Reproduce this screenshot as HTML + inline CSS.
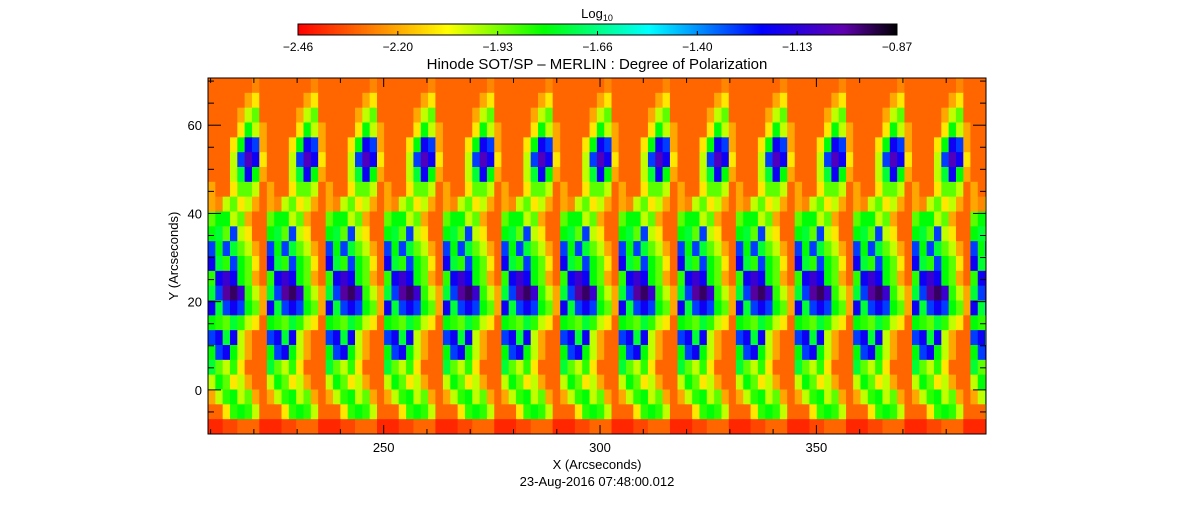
<!DOCTYPE html>
<html><head><meta charset="utf-8"><style>
body{margin:0;background:#fff;}
svg text{font-family:"Liberation Sans",sans-serif;fill:#000;}
</style></head><body>
<svg id="c" width="1194" height="512" viewBox="0 0 1194 512">
<defs>
<linearGradient id="cmap" x1="0" x2="1" y1="0" y2="0">
<stop offset="0" stop-color="#ff0000"/><stop offset="0.12" stop-color="#ff7a00"/><stop offset="0.25" stop-color="#ffff00"/>
<stop offset="0.41" stop-color="#00ff00"/><stop offset="0.586" stop-color="#00ffff"/><stop offset="0.774" stop-color="#0000ff"/>
<stop offset="0.91" stop-color="#6000b0"/><stop offset="1" stop-color="#000000"/>
</linearGradient>
<clipPath id="plotclip"><rect x="208" y="78" width="778" height="356"/></clipPath>
</defs>
<text x="597" y="18" text-anchor="middle" font-size="13">Log<tspan font-size="9" dy="3">10</tspan></text>
<rect x="298" y="24" width="599" height="11" fill="url(#cmap)" stroke="#000"/>
<g id="cbticks"></g>
<text x="597" y="69" text-anchor="middle" font-size="15">Hinode SOT/SP – MERLIN : Degree of Polarization</text>
<g id="heat" clip-path="url(#plotclip)"></g>
<rect x="208" y="78" width="778" height="356" fill="none" stroke="#000"/>
<g id="axes"></g>
<text x="597" y="469" text-anchor="middle" font-size="13">X (Arcseconds)</text>
<text x="597" y="486" text-anchor="middle" font-size="13">23-Aug-2016 07:48:00.012</text>
<text transform="translate(178,256) rotate(-90)" text-anchor="middle" font-size="13">Y (Arcseconds)</text>
</svg>
<script>
const cbLabels=["-2.46","-2.20","-1.93","-1.66","-1.40","-1.13","-0.87"];
const vmin=-2.46, vmax=-0.87;
const xTicks=[250,300,350];
const yTicks=[0,20,40,60];
// one scan strip pattern: rows top->bottom, cols left->right (log10 degree of polarization)
const strip=[
[-2.3,-2.3,-2.3,-2.3,-2.3,-2.3,-2.25,-2.3],
[-2.3,-2.3,-2.3,-2.3,-2.3,-2.2,-2.1,-2.3],
[-2.3,-2.3,-2.3,-2.3,-2.2,-2.0,-1.9,-2.3],
[-2.3,-2.3,-2.3,-2.3,-2.1,-1.8,-2.0,-2.2],
[-2.3,-2.3,-2.3,-2.1,-1.8,-1.2,-1.3,-2.2],
[-2.3,-2.3,-2.3,-2.0,-1.3,-1.05,-1.2,-2.1],
[-2.3,-2.3,-2.3,-2.0,-1.75,-1.2,-1.8,-2.2],
[-2.2,-2.3,-2.3,-2.1,-1.9,-1.9,-2.0,-2.3],
[-2.2,-2.25,-2.0,-1.9,-2.1,-2.0,-2.2,-2.3],
[-1.9,-1.8,-1.8,-2.0,-1.9,-2.2,-2.3,-2.3],
[-1.8,-1.75,-1.9,-1.3,-2.0,-2.1,-2.3,-2.3],
[-1.3,-1.8,-1.3,-1.75,-1.9,-2.0,-2.2,-2.3],
[-1.2,-1.75,-1.85,-1.3,-1.8,-1.9,-2.1,-2.3],
[-1.85,-1.2,-1.1,-1.2,-1.8,-1.9,-2.2,-2.3],
[-1.75,-1.3,-1.0,-0.95,-1.1,-1.85,-2.0,-2.2],
[-1.2,-1.75,-1.3,-1.2,-1.3,-1.8,-1.9,-2.2],
[-1.8,-1.85,-1.9,-1.75,-1.85,-2.0,-2.1,-2.3],
[-1.3,-1.2,-1.75,-1.2,-2.0,-2.2,-2.3,-2.3],
[-1.8,-1.3,-1.2,-1.8,-2.0,-2.2,-2.3,-2.3],
[-1.75,-1.9,-2.0,-1.85,-2.1,-2.3,-2.3,-2.3],
[-2.0,-1.8,-1.9,-2.1,-2.0,-2.2,-2.3,-2.3],
[-2.2,-2.0,-1.85,-1.8,-2.0,-1.9,-2.2,-2.3],
[-2.3,-2.3,-2.1,-1.85,-1.8,-1.85,-2.0,-2.3],
[-2.4,-2.4,-2.35,-2.35,-2.3,-2.3,-2.3,-2.4]
];
const stripStarts=[209.4,223,236.6,250.1,263.7,277.2,290.8,304.3,317.9,331.4,345,358.5,372.1,385.6];
const stripWidth=13.55;
const NS="http://www.w3.org/2000/svg";
const X0=208,X1=986,Y0=434,Y1=78;
const xmin=209.4,xmax=389.2,ymin=-10,ymax=70.7;
const sx=v=>X0+(v-xmin)/(xmax-xmin)*(X1-X0);
const sy=v=>Y0-(v-ymin)/(ymax-ymin)*(Y0-Y1);
const stops=[[0,[255,0,0]],[0.12,[255,122,0]],[0.25,[255,255,0]],[0.41,[0,255,0]],[0.586,[0,255,255]],[0.774,[0,0,255]],[0.91,[96,0,176]],[1,[0,0,0]]];
function cmap(v){let t=Math.max(0,Math.min(1,(v-vmin)/(vmax-vmin)));
for(let i=1;i<stops.length;i++){if(t<=stops[i][0]){const a=stops[i-1],b=stops[i];const f=(t-a[0])/(b[0]-a[0]);
const c=a[1].map((x,k)=>Math.round(x+(b[1][k]-x)*f));return `rgb(${c})`;}}return "#000";}
function el(tag,attrs,parent){const e=document.createElementNS(NS,tag);for(const k in attrs)e.setAttribute(k,attrs[k]);parent.appendChild(e);return e;}
const heat=document.getElementById('heat');
const rows=strip.length, cols=strip[0].length;
stripStarts.forEach((s,si)=>{
  for(let r=0;r<rows;r++)for(let c=0;c<cols;c++){
    const xa=sx(s+stripWidth*c/cols), xb=sx(s+stripWidth*(c+1)/cols);
    const ya=sy(ymax-(ymax-ymin)*r/rows), yb=sy(ymax-(ymax-ymin)*(r+1)/rows);
    const rc=el('rect',{x:xa,y:ya,width:xb-xa+0.6,height:yb-ya+0.6,fill:cmap(strip[r][c])},heat);
    
    
  }
});
const cb=document.getElementById('cbticks');
cbLabels.forEach((l,i)=>{const x=298+599*i/(cbLabels.length-1);
  el('line',{x1:x,x2:x,y1:35,y2:31,stroke:'#000'},cb);
  const t=el('text',{x:x,y:51,'text-anchor':'middle','font-size':12},cb);t.textContent=l.replace('-','\u2212');
  
  
});
const ax=document.getElementById('axes');
for(let v=210;v<=389;v+=10){const x=sx(v);const maj=v%50===0;const L=maj?9:5;
  el('line',{x1:x,x2:x,y1:Y0,y2:Y0-L,stroke:'#000'},ax);el('line',{x1:x,x2:x,y1:Y1,y2:Y1+L,stroke:'#000'},ax);}
xTicks.forEach(v=>{const t=el('text',{x:sx(v),y:452,'text-anchor':'middle','font-size':13},ax);t.textContent=v;
  
  });
for(let v=-10;v<=70;v+=5){const y=sy(v);const maj=v%20===0;const L=maj?13:6;
  el('line',{x1:X0,x2:X0+L,y1:y,y2:y,stroke:'#000'},ax);el('line',{x1:X1,x2:X1-L,y1:y,y2:y,stroke:'#000'},ax);}
yTicks.forEach(v=>{const t=el('text',{x:202,y:sy(v)+5,'text-anchor':'end','font-size':13},ax);t.textContent=v;
  
  });
</script>
</body></html>
